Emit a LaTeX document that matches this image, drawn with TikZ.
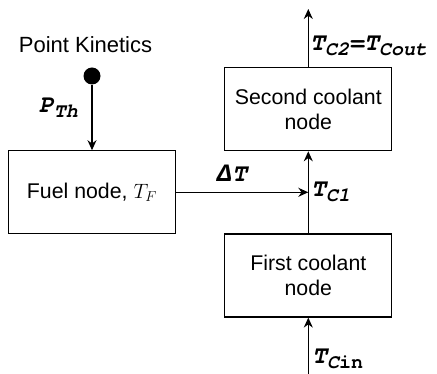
\documentclass[tikz,border=0pt]{standalone}
\usepackage{fontspec}
\setmainfont{Liberation Sans}
\newfontfamily\labelfamily{TeX Gyre Cursor}
\newfontfamily\greekfamily{Liberation Mono}
\usetikzlibrary{arrows.meta}
\newcommand\lsub[1]{\raisebox{-4.5pt}{\fontsize{20}{21}\selectfont #1}}

\begin{document}
\begin{tikzpicture}[x=1pt,y=-1pt,
  block/.style={draw,line width=1.2pt,minimum width=167pt,minimum height=83pt,
    align=center,font=\fontsize{21.3}{25}\selectfont},
  flow/.style={line width=1.2pt,-{Stealth[length=10pt,width=9pt]}},
  var/.style={font=\labelfamily\fontsize{25}{26}\selectfont\bfseries\itshape,inner sep=0pt}]
  \useasboundingbox (0,0) rectangle (437,374);
  % boxes
  \node[block] (fuel)   at (92,192.3)  {Fuel node, $T_F$};
  \node[block] (second) at (308.3,109.2) {Second coolant\\node};
  \node[block] (first)  at (308.3,275.5) {First coolant\\node};
  % power source
  \node[font=\fontsize{22}{24}\selectfont] (pk) at (85.5,44.8) {Point Kinetics};
  \node[circle,fill,minimum size=17pt,inner sep=0pt] (src) at (92,76) {};
  \coordinate (out) at (308.3,9);
  \coordinate (in)  at (308.3,374);
  \coordinate (tc1) at (fuel.east -| first.north);
  % connectors
  \draw[flow] (src) -- (fuel);
  \draw[flow] (fuel.east) -- (tc1);
  \draw[flow] (first) -- (second);
  \draw[flow] (second) -- (out);
  \draw[flow] (in) -- (first);
  % variables
  \node[var,anchor=base east] (pth) at (78,113) {P\lsub{Th}};
  \node[var,anchor=base] (dT) at (232,181.5) {{\greekfamily\bfseries\itshape Δ}T};
  \node[var,anchor=base west] (tcone) at (311,196.7) {T\lsub{C1}};
  \node[var,anchor=base west] (tctwo) at (310,50.7) {T\lsub{C2}=T\lsub{Cout}};
  \node[var,anchor=base west] (tcin) at (312,364) {T\lsub{C{\upshape in}}};
\end{tikzpicture}
\end{document}
